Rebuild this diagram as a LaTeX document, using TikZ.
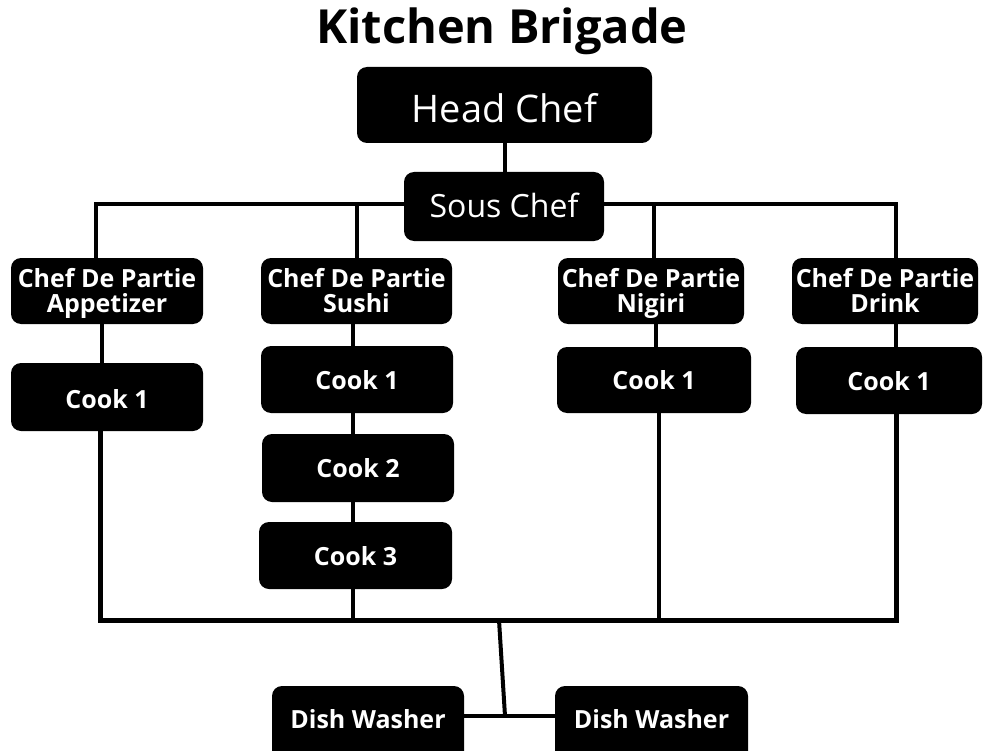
\documentclass[tikz,border=0pt]{standalone}
\usepackage{fontspec}
\setmainfont{Open Sans}
\usetikzlibrary{backgrounds}
\begin{document}
\begin{tikzpicture}[x=1pt,y=-1pt,
  box/.style={fill=black, text=white, rounded corners=10pt, inner sep=0pt, align=center},
  bigbox/.style={box, font=\fontsize{38}{40}\selectfont},
  midbox/.style={box, font=\fontsize{32}{34}\selectfont},
  smallbox/.style={box, font=\bfseries\fontsize{25}{25}\selectfont, text height=19pt, text depth=0pt},
  cdpbox/.style={box, font=\bfseries\fontsize{25}{25}\selectfont, text height=42pt, text depth=0pt, minimum height=66pt},
  wire/.style={line width=4pt, line join=miter},
  busline/.style={line width=5pt, line join=miter}]
\useasboundingbox (0,0) rectangle (984,751);
% title
\node[font=\bfseries\fontsize{47}{49}\selectfont, anchor=base, inner sep=0pt] (title) at (502,44) {Kitchen Brigade};
% top
\node[bigbox, minimum width=295pt, minimum height=76pt, text height=36pt, text depth=0pt] (head) at (504.5,105) {Head Chef};
\node[midbox, minimum width=200pt, minimum height=69pt, text height=23pt, text depth=0pt] (sous) at (504,206.5) {Sous Chef};
% chefs de partie
\node[cdpbox, minimum width=192pt] (cdpA) at (107,291) {Chef De Partie\\Appetizer};
\node[cdpbox, minimum width=191pt] (cdpS) at (356.5,291) {Chef De Partie\\Sushi};
\node[cdpbox, minimum width=186pt] (cdpN) at (651,291) {Chef De Partie\\Nigiri};
\node[cdpbox, minimum width=186pt] (cdpD) at (885,291) {Chef De Partie\\Drink};
% cooks
\node[smallbox, minimum width=192pt, minimum height=68pt, text height=22pt] (cookA) at (107,397) {Cook 1};
\node[smallbox, minimum width=192pt, minimum height=67pt] (cookS1) at (357,379.5) {Cook 1};
\node[smallbox, minimum width=192pt, minimum height=68pt] (cookS2) at (358,468) {Cook 2};
\node[smallbox, minimum width=193pt, minimum height=67pt] (cookS3) at (355.5,555.5) {Cook 3};
\node[smallbox, minimum width=194pt, minimum height=66pt] (cookN) at (654,380) {Cook 1};
\node[smallbox, minimum width=186pt, minimum height=67pt] (cookD) at (889,380.5) {Cook 1};
% dish washers
\node[smallbox, minimum width=192pt, minimum height=76pt, text height=18pt, text depth=10pt] (dw1) at (368,724) {Dish Washer};
\node[smallbox, minimum width=193pt, minimum height=76pt, text height=18pt, text depth=10pt] (dw2) at (651.5,724) {Dish Washer};
% helper coordinates
\coordinate (tbL) at (96,204);
\coordinate (tbR) at (896,204);
\coordinate (tbS) at (357,204);
\coordinate (tbN) at (654,204);
\coordinate (xA) at (102,0);
\coordinate (xS) at (353,0);
\coordinate (xN) at (656,0);
\coordinate (xD) at (896,0);
\coordinate (bbL) at (100,620);
\coordinate (bbR) at (896,620);
\coordinate (bbN) at (659,620);
\coordinate (dtop) at (499,620);
\coordinate (dbot) at (505,716);
\begin{pgfonlayer}{background}
\draw[wire] (head.south) -- (head.south |- sous.north);
\draw[wire] (tbL |- cdpA.north) -- (tbL) -- (tbR) -- (tbR |- cdpD.north);
\draw[wire] (tbS) -- (tbS |- cdpS.north);
\draw[wire] (tbN) -- (tbN |- cdpN.north);
\draw[wire] (cdpA.south -| xA) -- (cookA.north -| xA);
\draw[wire] (cdpS.south -| xS) -- (cookS1.north -| xS);
\draw[wire] (cookS1.south -| xS) -- (cookS2.north -| xS);
\draw[wire] (cookS2.south -| xS) -- (cookS3.north -| xS);
\draw[wire] (cdpN.south -| xN) -- (cookN.north -| xN);
\draw[wire] (cdpD.south -| xD) -- (cookD.north -| xD);
\draw[busline] (bbL |- cookA.south) -- (bbL) -- (bbR) -- (bbR |- cookD.south);
\draw[wire] (cookS3.south -| xS) -- (xS |- bbL);
\draw[wire] (cookN.south -| bbN) -- (bbN);
\draw[wire] (dtop) -- (dbot);
\draw[wire] (dw1.east |- dbot) -- (dw2.west |- dbot);
\end{pgfonlayer}
\end{tikzpicture}
\end{document}
